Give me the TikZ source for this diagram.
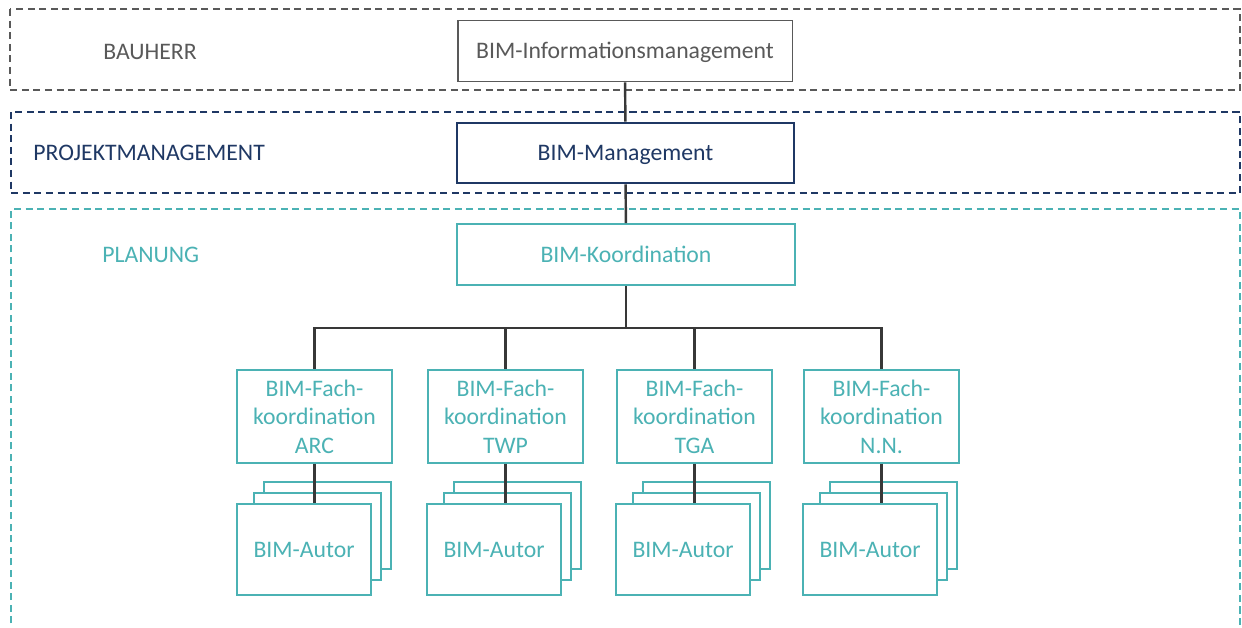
\documentclass[tikz,border=0pt]{standalone}
\usepackage{fontspec}
\setmainfont{Carlito}
\usepackage{tikz}
\usetikzlibrary{positioning}
\definecolor{ownergray}{HTML}{595959}
\definecolor{pmblue}{HTML}{1F3864}
\definecolor{planteal}{HTML}{4BB2B4}
\definecolor{linkgray}{HTML}{383838}
\tikzstyle{zone} = [line width=1.1pt, dash pattern=on 4pt off 2.6pt]
\tikzstyle{zonelabel} = [anchor=west, inner sep=0pt]
\tikzstyle{role} = [draw, line width=1.1pt, fill=white, inner sep=0pt, align=center]
\tikzstyle{oneline} = [text height=0.9em, text depth=0pt]
\tikzstyle{fach} = [role, draw=planteal, text=planteal, minimum width=3.1cm, minimum height=1.86cm, text depth=-0.3em]
\tikzstyle{autor} = [role, oneline, draw=planteal, text=planteal, minimum width=2.68cm, minimum height=1.82cm, anchor=north east]
\tikzstyle{autor_back} = [role, draw=planteal, minimum width=2.54cm, minimum height=1.75cm, anchor=north east]
\tikzstyle{link} = [line width=1.4pt, draw=linkgray]

\begin{document}
\begin{tikzpicture}[x=0.02cm, y=-0.02cm, font=\fontsize{13.5pt}{16.2pt}\selectfont]
        \useasboundingbox (0,0) rectangle (1242,627);

        % zones
        \draw[zone, ownergray] (10,9) rectangle (1240,90);
        \draw[zone, pmblue] (11,112) rectangle (1240,193);
        \draw[zone, planteal] (11,635) -- (11,209) -- (1240,209) -- (1240,635);
        \node (owner_label) [zonelabel, text=ownergray] at (103,52) {BAUHERR};
        \node (pm_label) [zonelabel, text=pmblue] at (33,153) {PROJEKTMANAGEMENT};
        \node (plan_label) [zonelabel, text=planteal] at (102,255) {PLANUNG};

        % main roles
        \node (bim_im) [role, oneline, draw=ownergray, text=ownergray, minimum width=6.7cm, minimum height=1.22cm] at (625,51) {BIM-Informationsmanagement};
        \node (bim_m) [role, oneline, draw=pmblue, text=pmblue, line width=1.5pt, minimum width=6.74cm, minimum height=1.2cm] at (625.5,153) {BIM-Management};
        \node (bim_k) [role, oneline, draw=planteal, text=planteal, minimum width=6.76cm, minimum height=1.22cm] at (626,254.5) {BIM-Koordination};

        % discipline coordination
        \node (fach_arc) [fach] at (314.5,416.5) {BIM-Fach-\\koordination\\ARC};
        \node (fach_twp) [fach] at (505.5,416.5) {BIM-Fach-\\koordination\\TWP};
        \node (fach_tga) [fach] at (694.5,416.5) {BIM-Fach-\\koordination\\TGA};
        \node (fach_nn) [fach] at (881.5,416.5) {BIM-Fach-\\koordination\\N.N.};

        % authors (stacked)
        \coordinate (arc_corner) at (372,503);
        \coordinate (twp_corner) at (562,503);
        \coordinate (tga_corner) at (751,503);
        \coordinate (nn_corner) at (938,503);
        \node (arc_back) [autor_back] at ([shift={(20,-22)}]arc_corner) {};
        \node (arc_mid) [autor_back] at ([shift={(10,-11)}]arc_corner) {};
        \node (autor_arc) [autor] at (arc_corner) {BIM-Autor};
        \node (twp_back) [autor_back] at ([shift={(20,-22)}]twp_corner) {};
        \node (twp_mid) [autor_back] at ([shift={(10,-11)}]twp_corner) {};
        \node (autor_twp) [autor] at (twp_corner) {BIM-Autor};
        \node (tga_back) [autor_back] at ([shift={(20,-22)}]tga_corner) {};
        \node (tga_mid) [autor_back] at ([shift={(10,-11)}]tga_corner) {};
        \node (autor_tga) [autor] at (tga_corner) {BIM-Autor};
        \node (nn_back) [autor_back] at ([shift={(20,-22)}]nn_corner) {};
        \node (nn_mid) [autor_back] at ([shift={(10,-11)}]nn_corner) {};
        \node (autor_nn) [autor] at (nn_corner) {BIM-Autor};

        % connectors
        \draw[link] (bim_im) -- (bim_m);
        \draw[link] (bim_m) -- (bim_k);
        \coordinate (fork) at (bim_k.south |- 0,328);
        \draw[link] (bim_k) -- (fork);
        \draw[link] (fork) -| (fach_arc);
        \draw[link] (fork) -| (fach_twp);
        \draw[link] (fork) -| (fach_tga);
        \draw[link] (fork) -| (fach_nn);
        \draw[link] (fach_arc) -- (fach_arc.south |- autor_arc.north);
        \draw[link] (fach_twp) -- (fach_twp.south |- autor_twp.north);
        \draw[link] (fach_tga) -- (fach_tga.south |- autor_tga.north);
        \draw[link] (fach_nn) -- (fach_nn.south |- autor_nn.north);
    \end{tikzpicture}
\end{document}
